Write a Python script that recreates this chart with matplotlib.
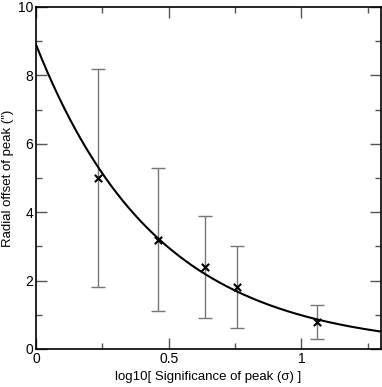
import numpy as np
import matplotlib
matplotlib.use("Agg")
import matplotlib.pyplot as plt
from matplotlib.ticker import MultipleLocator

plt.rcParams["font.family"] = ["Liberation Sans", "DejaVu Sans"]

# measured peaks
log_sig = [0.234, 0.46, 0.637, 0.757, 1.059]
offset = [5.0, 3.2, 2.4, 1.8, 0.8]
err_lo = [1.8, 1.1, 0.9, 0.6, 0.3]
err_hi = [8.2, 5.3, 3.9, 3.0, 1.3]

# exponential fit: y = A * exp(-k x)
fit_A = 8.9
fit_k = 2.2

fig = plt.figure(figsize=(3.82, 3.87), dpi=100)
ax = fig.add_axes([36 / 382, 38 / 387, 345 / 382, 342 / 387])

x = np.array(log_sig)
y = np.array(offset)
yerr = [y - np.array(err_lo), np.array(err_hi) - y]

ax.errorbar(x, y, yerr=yerr, fmt="none", ecolor="#777777",
            elinewidth=1.0, capsize=5, capthick=1.0, zorder=2)
ax.scatter(x, y, marker="x", s=28, color="black", linewidths=1.5, zorder=3)

xs = np.linspace(0, 1.3, 300)
ax.plot(xs, fit_A * np.exp(-fit_k * xs), color="black", lw=1.5, zorder=4)

ax.set_xlim(0, 1.3)
ax.set_ylim(0, 10)
ax.xaxis.set_major_locator(MultipleLocator(0.5))
ax.xaxis.set_minor_locator(MultipleLocator(0.25))
ax.yaxis.set_major_locator(MultipleLocator(2))
ax.yaxis.set_minor_locator(MultipleLocator(1))
ax.xaxis.set_major_formatter(plt.FuncFormatter(lambda v, p: f"{v:g}"))

ax.tick_params(which="both", direction="in", top=True, right=True,
               labelsize=10, width=1.0, color="#555555", pad=2)
ax.tick_params(which="major", length=8)
ax.tick_params(which="minor", length=4)
for s in ax.spines.values():
    s.set_linewidth(1.2)

ax.set_xlabel("log10[ Significance of peak (σ) ]", fontsize=9.5, labelpad=4)
ax.set_ylabel("Radial offset of peak (\")", fontsize=9.5, labelpad=3)

fig.savefig("out.png", dpi=100)
